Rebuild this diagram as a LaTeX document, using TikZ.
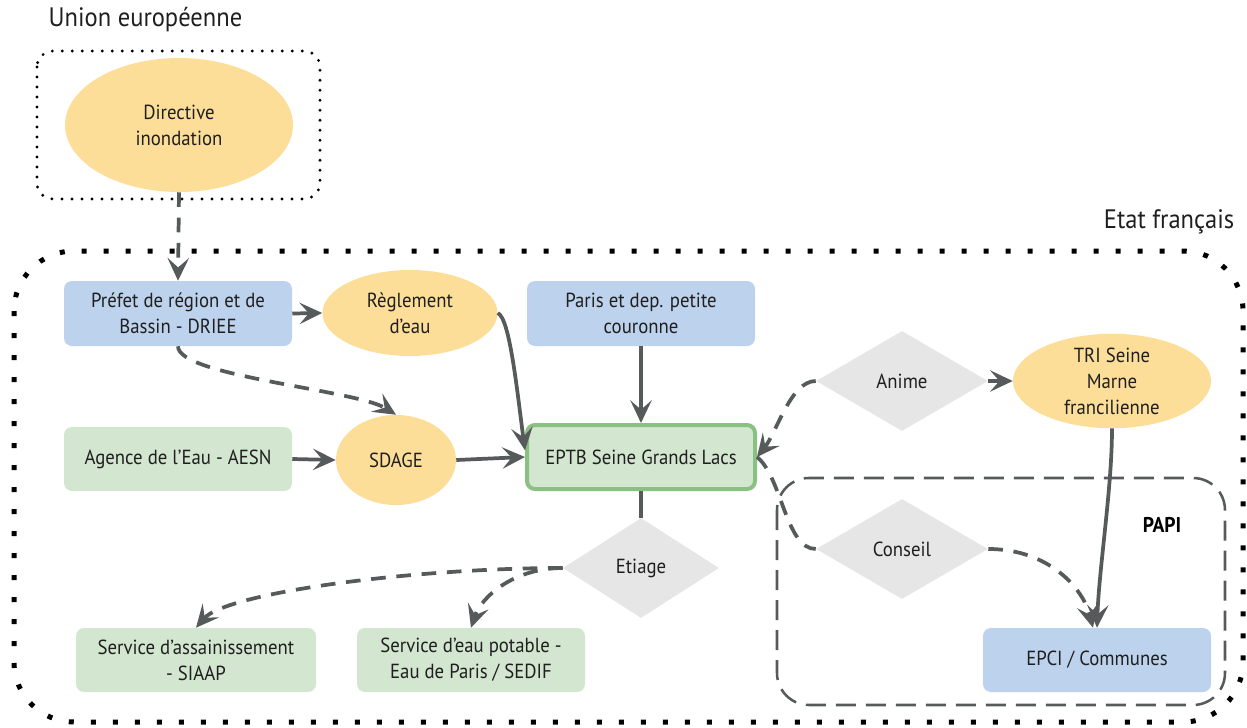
\documentclass[tikz,border=0pt]{standalone}
\usepackage{fontspec}
\setmainfont[FakeStretch=0.92]{PT Sans}
\usetikzlibrary{shapes.geometric,arrows.meta}
\definecolor{blueF}{RGB}{189,210,236}
\definecolor{greenF}{RGB}{211,230,208}
\definecolor{oranF}{RGB}{253,222,153}
\definecolor{grayF}{RGB}{230,230,231}
\definecolor{eptbB}{RGB}{138,193,130}
\definecolor{lineC}{RGB}{87,90,90}
\newcommand\nodefont{\fontsize{15.3}{19.5}\selectfont}
\newcommand\bigfont{\fontsize{20}{24}\selectfont}
\tikzset{
  boxbase/.style={rectangle, rounded corners=6pt, minimum width=171pt, minimum height=48.75pt, inner sep=1pt, align=center, font=\nodefont, text=black!88},
  bluebox/.style={boxbase, fill=blueF},
  greenbox/.style={boxbase, fill=greenF},
  oval/.style={ellipse, fill=oranF, inner sep=0pt, align=center, font=\nodefont, text=black!88},
  diam/.style={diamond, fill=grayF, inner sep=0pt, font=\nodefont, text=black!88},
  conn/.style={draw=lineC, line width=2.8pt, -{Stealth[length=17pt,width=16pt,inset=7pt]}},
  dconn/.style={conn, dash pattern=on 11pt off 8pt},
  plainline/.style={draw=lineC, line width=2.8pt},
}
\begin{document}
\begin{tikzpicture}[x=0.75pt,y=-0.75pt]
\useasboundingbox (0,0) rectangle (1247,728);

% frames
\draw[line width=2.4pt, line cap=round, dash pattern=on 0pt off 7.5pt, rounded corners=12pt] (37,51) rectangle (320,199);
\draw[line width=3.75pt, dash pattern=on 3.75pt off 12.75pt, rounded corners=45pt] (14,251) rectangle (1243,722);
\draw[draw=lineC, line width=1.9pt, dash pattern=on 15pt off 7.5pt, rounded corners=24pt] (777,478) rectangle (1225,705);

\node[anchor=west, font=\bigfont, text=black!88] (ue) at (44,20) {Union européenne};
\node[anchor=east, font=\bigfont, text=black!88] (etat) at (1239,222) {Etat français};
\node[font=\fontsize{16}{19}\selectfont\bfseries] (papi) at (1162,525) {PAPI};

% nodes
\node[oval, minimum width=171pt, minimum height=100.5pt] (directive) at (179,125) {Directive\\inondation};
\node[bluebox] (prefet) at (178,313.5) {Préfet de région et de\\Bassin - DRIEE};
\node[oval, minimum width=131.25pt, minimum height=64.5pt] (regl) at (410,313) {Règlement\\d’eau};
\node[bluebox] (paris) at (641,313.5) {Paris et dep. petite\\couronne};
\node[greenbox, minimum height=48pt] (agence) at (178,459) {Agence de l’Eau - AESN};
\node[oval, minimum width=90pt, minimum height=67.5pt] (sdage) at (396,460) {SDAGE};
\node[boxbase, fill=greenF, draw=eptbB, line width=3pt, minimum width=171pt, minimum height=48pt] (eptb) at (641,457) {EPTB Seine Grands Lacs};
\node[diam, minimum width=129pt, minimum height=75pt] (anime) at (902,381) {Anime};
\node[oval, minimum width=148.5pt, minimum height=69pt] (tri) at (1112,381) {TRI Seine\\Marne\\francilienne};
\node[diam, minimum width=129pt, minimum height=75pt] (conseil) at (902,549) {Conseil};
\node[bluebox, minimum height=48pt] (epci) at (1097,660) {EPCI / Communes};
\node[diam, minimum width=117pt, minimum height=75pt] (etiage) at (641,568) {Etiage};
\node[greenbox, minimum width=180pt, minimum height=48pt] (assain) at (196,660) {Service d’assainissement\\- SIAAP};
\node[greenbox, minimum height=48pt] (eau) at (471,660) {Service d’eau potable -\\Eau de Paris / SEDIF};

% connectors
\draw[dconn] (directive.south) -- (prefet.north);
\draw[conn] (prefet.east) -- (regl.west);
\draw[dconn] (prefet.south) .. controls +(0,30) and +(-40,-25) .. (sdage.north);
\draw[conn] (regl.east) .. controls +(12,5) and +(-8,-60) .. ([yshift=5pt]eptb.west);
\draw[conn] (agence.east) -- (sdage.west);
\draw[conn] (sdage.east) -- (eptb.west);
\draw[conn] (paris.south) -- (eptb.north);
\draw[plainline] (eptb.south) -- (etiage.north);
\draw[dconn] (etiage.west) .. controls +(-150,0) and +(30,-35) .. (assain.north);
\draw[dconn] (etiage.west) .. controls +(-50,0) and +(10,-30) .. (eau.north);
\draw[dconn] (anime.west) .. controls +(-25,0) and +(20,-25) .. (eptb.east);
\draw[plainline, dash pattern=on 11pt off 8pt] (eptb.east) .. controls +(25,20) and +(-30,0) .. (conseil.west);
\draw[conn] (anime.east) -- (tri.west);
\draw[conn] (tri.south) .. controls +(0,60) and +(2,-60) .. (epci.north);
\draw[dconn] (conseil.east) .. controls +(60,0) and +(-10,-40) .. ([xshift=-3pt]epci.north);
\end{tikzpicture}
\end{document}
